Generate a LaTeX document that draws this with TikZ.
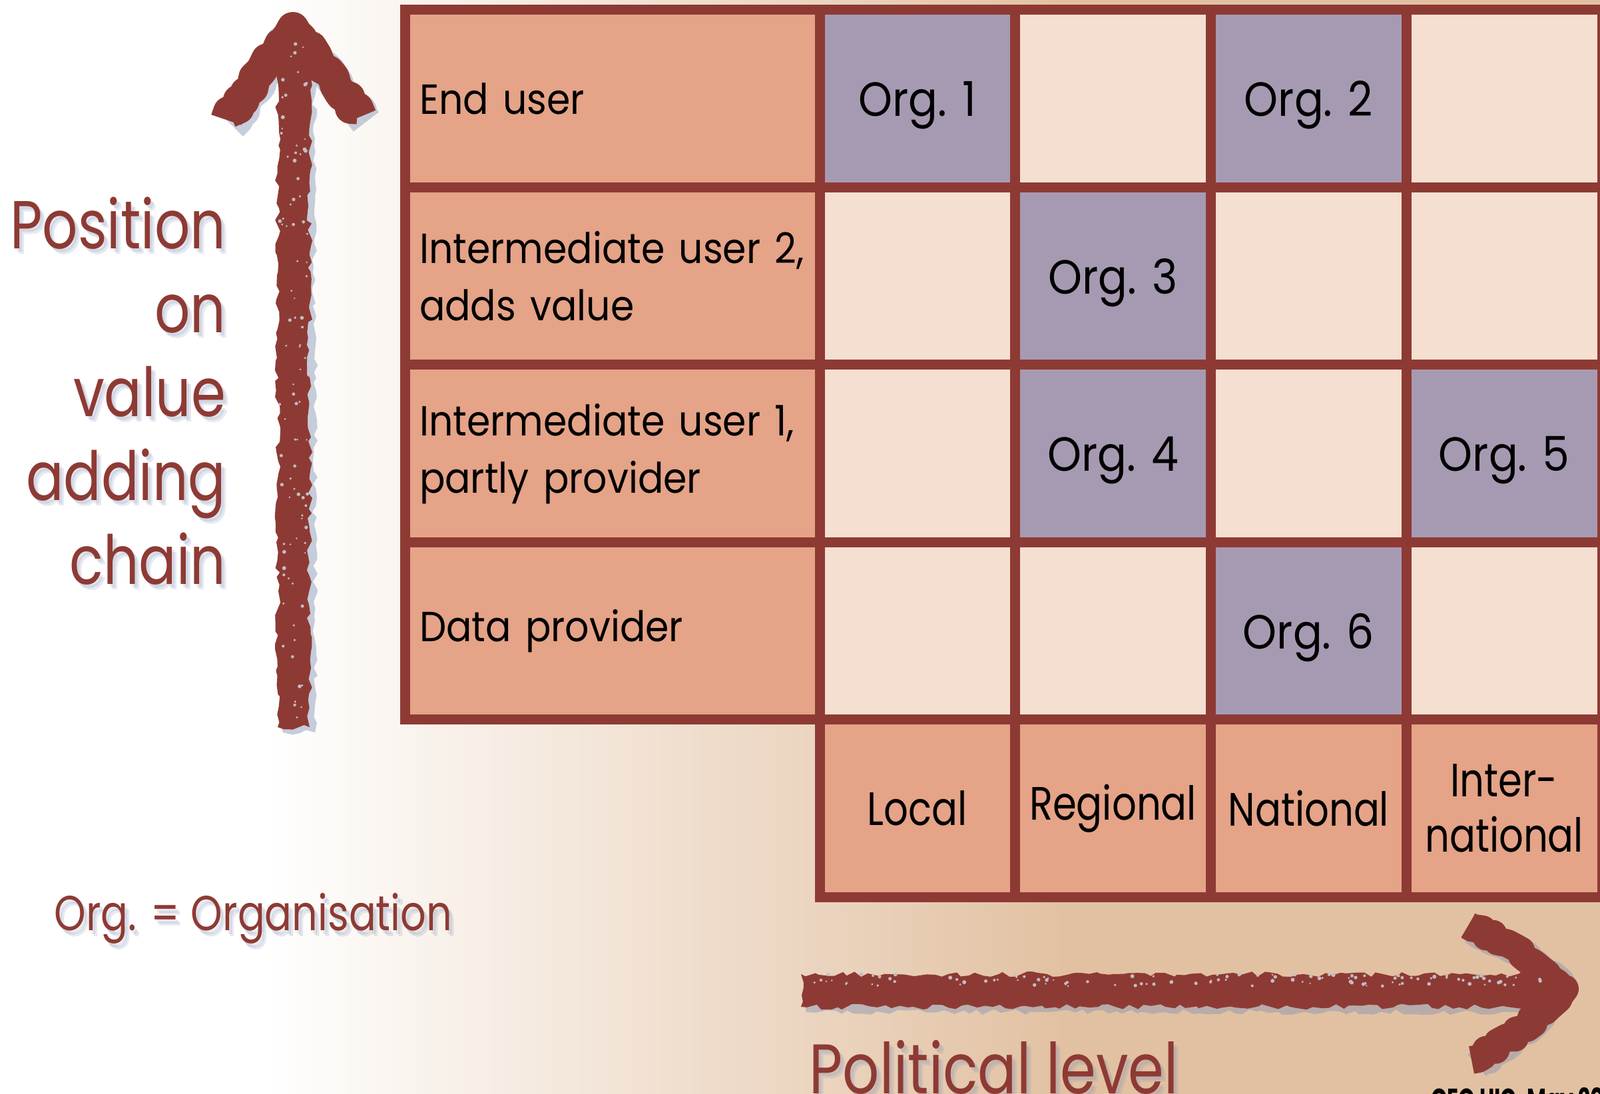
\documentclass[tikz,border=0pt]{standalone}
\usepackage{fontspec}
\setmainfont{Poppins}[FakeStretch=0.82]
\newfontfamily\cellfont{Poppins}[FakeStretch=0.9]
\newfontfamily\condfont{Poppins}[FakeStretch=0.82]
\newfontfamily\footfont{Poppins}[FakeStretch=0.69]
\usetikzlibrary{decorations.pathmorphing}

\definecolor{brd}{HTML}{8E3A34}
\definecolor{lblfill}{HTML}{E5A387}
\definecolor{empfill}{HTML}{F4DFD1}
\definecolor{orgfill}{HTML}{A69AB3}
\definecolor{bgtan}{HTML}{E2C1A2}
\definecolor{shadowblue}{HTML}{8393B5}

\tikzset{
  cell/.style={draw=brd, line width=0.15cm, inner sep=0pt,
    minimum width=2.9375cm, minimum height=2.665cm,
    font=\cellfont\fontsize{18}{24.5}\selectfont},
  emp/.style={cell, fill=empfill},
  org/.style={cell, fill=orgfill, font=\cellfont\fontsize{20.5}{24.5}\selectfont,
    text depth=0pt},
  lab/.style={cell, fill=lblfill, minimum width=6.23cm, text width=5.79cm,
    inner xsep=0.22cm, align=left},
  lvl/.style={cell, fill=lblfill, align=center,
    font=\condfont\fontsize{20}{23.6}\selectfont},
  axistext/.style={text=brd, inner sep=0pt},
  shadowtext/.style={text=shadowblue, inner sep=0pt, opacity=0.2},
  chalk/.style={decorate, decoration={random steps, segment length=3pt, amplitude=1.2pt}},
}

\begin{document}
\begin{tikzpicture}
    \def\x{2.9375}
    \def\y{-2.665}
    % background
    \useasboundingbox (0,0) rectangle (24.03,-16.43);
    \fill[white] (0,0) rectangle (4,-16.43);
    \shade[left color=white, right color=bgtan] (3.99,0) rectangle (16.01,-16.43);
    \fill[bgtan] (16,0) rectangle (24.03,-16.43);

    % grid
    \begin{scope}[shift={(12.31,-0.15)}]
    \node[lab] (A0_0) at (-3.115, 0.5*\y) {End user};
    \node[org] (A0_1) at (0.5*\x, 0.5*\y) {Org. 1};
    \node[emp] (A0_2) at (1.5*\x, 0.5*\y) {};
    \node[org] (A0_3) at (2.5*\x, 0.5*\y) {Org. 2};
    \node[emp] (A0_4) at (3.5*\x, 0.5*\y) {};
    \node[lab] (A1_0) at (-3.115, 1.5*\y) {Intermediate user 2,\\adds value};
    \node[emp] (A1_1) at (0.5*\x, 1.5*\y) {};
    \node[org] (A1_2) at (1.5*\x, 1.5*\y) {Org. 3};
    \node[emp] (A1_3) at (2.5*\x, 1.5*\y) {};
    \node[emp] (A1_4) at (3.5*\x, 1.5*\y) {};
    \node[lab] (A2_0) at (-3.115, 2.5*\y) {Intermediate user 1,\\partly provider};
    \node[emp] (A2_1) at (0.5*\x, 2.5*\y) {};
    \node[org] (A2_2) at (1.5*\x, 2.5*\y) {Org. 4};
    \node[emp] (A2_3) at (2.5*\x, 2.5*\y) {};
    \node[org] (A2_4) at (3.5*\x, 2.5*\y) {Org. 5};
    \node[lab] (A3_0) at (-3.115, 3.5*\y) {Data provider};
    \node[emp] (A3_1) at (0.5*\x, 3.5*\y) {};
    \node[emp] (A3_2) at (1.5*\x, 3.5*\y) {};
    \node[org] (A3_3) at (2.5*\x, 3.5*\y) {Org. 6};
    \node[emp] (A3_4) at (3.5*\x, 3.5*\y) {};
    \node[lvl] (A4_1) at (0.5*\x, 4.5*\y) {Local};
    \node[lvl] (A4_2) at (1.5*\x, 4.5*\y) {Regional};
    \node[lvl] (A4_3) at (2.5*\x, 4.5*\y) {National};
    \node[lvl] (A4_4) at (3.5*\x, 4.5*\y) {Inter-\\national};
    \end{scope}

    % chalk arrows, shadow first
    \coordinate (ytail) at (4.41,-10.92);
    \coordinate (ytip) at (4.40,-0.42);
    \coordinate (xtail) at (12.03,-14.87);
    \coordinate (xtip) at (23.50,-14.85);
    \begin{scope}[shift={(0.08,-0.08)}, opacity=0.45]
    \fill[shadowblue, chalk] (4.17,-10.92) rectangle (4.65,-0.75);
    \draw[shadowblue, line width=0.48cm, line join=round, chalk]
      (3.40,-1.80) -- (ytip) -- (5.42,-1.75);
    \fill[shadowblue, chalk] (12.03,-14.63) rectangle (23.3,-15.12);
    \draw[shadowblue, line width=0.42cm, line join=round, chalk]
      (22.05,-13.90) to[bend left=10] (xtip) to[bend left=10] (22.10,-15.92);
    \end{scope}
    \fill[brd, chalk] (4.17,-10.92) rectangle (4.65,-0.75);
    \draw[brd, line width=0.48cm, line join=round, chalk]
      (3.40,-1.80) -- (ytip) -- (5.42,-1.75);
    \fill[brd, chalk] (12.03,-14.63) rectangle (23.3,-15.12);
    \draw[brd, line width=0.42cm, line join=round, chalk]
      (22.05,-13.90) to[bend left=10] (xtip) to[bend left=10] (22.10,-15.92);
    \pgfmathsetseed{7}
    \foreach \i in {1,...,90}
      \fill[shadowblue!45!empfill] ({4.41+0.21*rand},{-5.75+5.1*rand}) circle ({0.012+0.018*rnd});
    \foreach \i in {1,...,110}
      \fill[shadowblue!45!empfill] ({17.65+5.5*rand},{-14.72+0.09*rand}) circle ({0.012+0.018*rnd});

    % texts
    \foreach \dx/\dy in {0.04/-0.05, 0.07/-0.08}{
      \node[shadowtext, font=\fontsize{29}{35.9}\selectfont, align=right, anchor=north east]
        at (3.40+\dx,-2.95+\dy) {Position\\on\\value\\adding\\chain};
      \node[shadowtext, font=\fontsize{21}{25}\selectfont, anchor=base west]
        at (0.81+\dx,-13.98+\dy) {Org. = Organisation};
      \node[shadowtext, font=\fontsize{30}{36}\selectfont, anchor=base west]
        at (12.15+\dx,-16.42+\dy) {Political level};
    }
    \node[axistext, font=\fontsize{29}{35.9}\selectfont, align=right, anchor=north east]
      (ytitle) at (3.40,-2.95) {Position\\on\\value\\adding\\chain};
    \node[axistext, font=\fontsize{21}{25}\selectfont, anchor=base west]
      (orgkey) at (0.81,-13.98) {Org. = Organisation};
    \node[axistext, font=\fontsize{30}{36}\selectfont, anchor=base west]
      (xtitle) at (12.15,-16.42) {Political level};
    \node[inner sep=0pt, anchor=north west, font=\bfseries\footfont\fontsize{13}{15}\selectfont]
      (foot) at (21.49,-16.33) {GEO UIC, May 20};
\end{tikzpicture}
\end{document}
